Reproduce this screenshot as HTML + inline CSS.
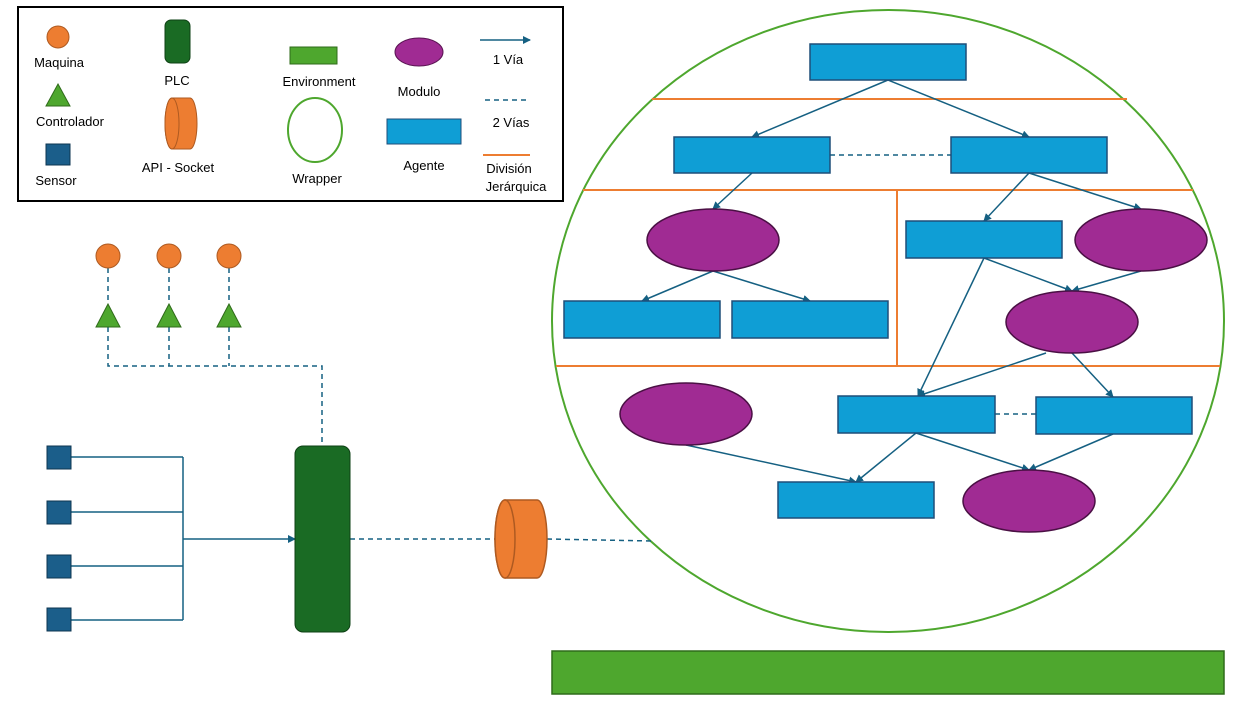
<!DOCTYPE html>
<html><head><meta charset="utf-8"><style>
html,body{margin:0;padding:0;background:#fff;}
svg{display:block;font-family:"Liberation Sans",sans-serif;font-size:13px;}
</style></head><body>
<svg width="1248" height="702" viewBox="0 0 1248 702">
<defs>
<marker id="ar" markerWidth="8" markerHeight="8" refX="7" refY="4" orient="auto" markerUnits="userSpaceOnUse"><path d="M0,0 L8,4 L0,8 Z" fill="#156082"/></marker>
</defs>
<!-- Legend -->
<g>
<rect x="18" y="7" width="545" height="194" fill="#fff" stroke="#000" stroke-width="2"/>
<circle cx="58" cy="37" r="11" fill="#ED7D31" stroke="#AE5A21"/>
<text x="59" y="67" text-anchor="middle">Maquina</text>
<polygon points="58,84 70,106 46,106" fill="#4EA72E" stroke="#2F6B1A"/>
<text x="70" y="126" text-anchor="middle">Controlador</text>
<rect x="46" y="144" width="24" height="21" fill="#1B5E8A" stroke="#0E3550"/>
<text x="56" y="185" text-anchor="middle">Sensor</text>
<rect x="165" y="20" width="25" height="43" rx="6" fill="#1A6B24" stroke="#0E4014"/>
<text x="177" y="85" text-anchor="middle">PLC</text>
<path d="M172,98 L190,98 A7,25.5 0 0 1 190,149 L172,149 A7,25.5 0 0 1 172,98 Z" fill="#ED7D31" stroke="#AE5A21"/>
<ellipse cx="172" cy="123.5" rx="7" ry="25.5" fill="#ED7D31" stroke="#AE5A21"/>
<text x="178" y="172" text-anchor="middle">API -  Socket</text>
<rect x="290" y="47" width="47" height="17" fill="#4EA72E" stroke="#2F6B1A"/>
<text x="319" y="86" text-anchor="middle">Environment</text>
<ellipse cx="315" cy="130" rx="27" ry="32" fill="none" stroke="#4EA72E" stroke-width="2"/>
<text x="317" y="183" text-anchor="middle">Wrapper</text>
<ellipse cx="419" cy="52" rx="24" ry="14" fill="#A02B93" stroke="#5A1453"/>
<text x="419" y="96" text-anchor="middle">Modulo</text>
<rect x="387" y="119" width="74" height="25" fill="#0F9ED5" stroke="#1F4E79"/>
<text x="424" y="170" text-anchor="middle">Agente</text>
<line x1="480" y1="40" x2="530" y2="40" stroke="#156082" stroke-width="1.5" marker-end="url(#ar)"/>
<text x="508" y="64" text-anchor="middle">1 Vía</text>
<line x1="485" y1="100" x2="530" y2="100" stroke="#156082" stroke-width="1.5" stroke-dasharray="5,4"/>
<text x="511" y="127" text-anchor="middle">2 Vías</text>
<line x1="483" y1="155" x2="530" y2="155" stroke="#ED7D31" stroke-width="2"/>
<text x="509" y="173" text-anchor="middle">División</text>
<text x="516" y="191" text-anchor="middle">Jerárquica</text>
</g>
<!-- Wrapper -->
<ellipse cx="888" cy="321" rx="336" ry="311" fill="none" stroke="#4EA72E" stroke-width="2"/>
<g stroke="#ED7D31" stroke-width="2">
<line x1="652" y1="99" x2="1127" y2="99"/>
<line x1="583" y1="190" x2="1193" y2="190"/>
<line x1="897" y1="190" x2="897" y2="366"/>
<line x1="556" y1="366" x2="1220" y2="366"/>
</g>
<!-- arrows -->
<g stroke="#156082" stroke-width="1.5" fill="none" marker-end="url(#ar)">
<line x1="888" y1="80" x2="752" y2="137"/>
<line x1="888" y1="80" x2="1029" y2="137"/>
<line x1="752" y1="173" x2="713" y2="209"/>
<line x1="1029" y1="173" x2="984" y2="221"/>
<line x1="1029" y1="173" x2="1141" y2="209"/>
<line x1="713" y1="271" x2="642" y2="301"/>
<line x1="713" y1="271" x2="810" y2="301"/>
<line x1="984" y1="258" x2="1072" y2="291"/>
<line x1="1141" y1="271" x2="1072" y2="291"/>
<line x1="984" y1="258" x2="918" y2="396"/>
<line x1="1046" y1="353" x2="918" y2="396"/>
<line x1="1072" y1="353" x2="1113" y2="397"/>
<line x1="686" y1="445" x2="856" y2="482"/>
<line x1="916" y1="433" x2="856" y2="482"/>
<line x1="916" y1="433" x2="1029" y2="470"/>
<line x1="1113" y1="434" x2="1029" y2="470"/>
</g>
<g stroke="#156082" stroke-width="1.5" stroke-dasharray="5,4">
<line x1="830" y1="155" x2="951" y2="155"/>
<line x1="995" y1="414" x2="1036" y2="414"/>
</g>
<!-- agents -->
<g fill="#0F9ED5" stroke="#1F4E79" stroke-width="1.5">
<rect x="810" y="44" width="156" height="36"/>
<rect x="674" y="137" width="156" height="36"/>
<rect x="951" y="137" width="156" height="36"/>
<rect x="906" y="221" width="156" height="37"/>
<rect x="564" y="301" width="156" height="37"/>
<rect x="732" y="301" width="156" height="37"/>
<rect x="838" y="396" width="157" height="37"/>
<rect x="1036" y="397" width="156" height="37"/>
<rect x="778" y="482" width="156" height="36"/>
</g>
<!-- modules -->
<g fill="#A02B93" stroke="#4A1044" stroke-width="1.5">
<ellipse cx="713" cy="240" rx="66" ry="31"/>
<ellipse cx="1141" cy="240" rx="66" ry="31"/>
<ellipse cx="1072" cy="322" rx="66" ry="31"/>
<ellipse cx="686" cy="414" rx="66" ry="31"/>
<ellipse cx="1029" cy="501" rx="66" ry="31"/>
</g>
<!-- left side -->
<g stroke="#156082" stroke-width="1.5" stroke-dasharray="5,4" fill="none">
<line x1="108" y1="268" x2="108" y2="304"/>
<line x1="169" y1="268" x2="169" y2="304"/>
<line x1="229" y1="268" x2="229" y2="304"/>
<polyline points="108,327 108,366 322,366 322,446"/>
<line x1="169" y1="327" x2="169" y2="366"/>
<line x1="229" y1="327" x2="229" y2="366"/>
<line x1="350" y1="539" x2="495" y2="539"/>
<line x1="547" y1="539" x2="652" y2="541"/>
</g>
<g fill="#ED7D31" stroke="#AE5A21">
<circle cx="108" cy="256" r="12"/>
<circle cx="169" cy="256" r="12"/>
<circle cx="229" cy="256" r="12"/>
</g>
<g fill="#4EA72E" stroke="#2F6B1A">
<polygon points="108,304 120,327 96,327"/>
<polygon points="169,304 181,327 157,327"/>
<polygon points="229,304 241,327 217,327"/>
</g>
<g stroke="#156082" stroke-width="1.5" fill="none">
<line x1="71" y1="457" x2="183" y2="457"/>
<line x1="71" y1="512" x2="183" y2="512"/>
<line x1="71" y1="566" x2="183" y2="566"/>
<line x1="71" y1="620" x2="183" y2="620"/>
<line x1="183" y1="457" x2="183" y2="620"/>
<line x1="183" y1="539" x2="295" y2="539" marker-end="url(#ar)"/>
</g>
<g fill="#1B5E8A" stroke="#0E3550">
<rect x="47" y="446" width="24" height="23"/>
<rect x="47" y="501" width="24" height="23"/>
<rect x="47" y="555" width="24" height="23"/>
<rect x="47" y="608" width="24" height="23"/>
</g>
<rect x="295" y="446" width="55" height="186" rx="8" fill="#1A6B24" stroke="#0E4014"/>
<g>
<path d="M505,500 L537,500 A10,39 0 0 1 537,578 L505,578 A10,39 0 0 1 505,500 Z" fill="#ED7D31" stroke="#AE5A21" stroke-width="1.5"/>
<ellipse cx="505" cy="539" rx="10" ry="39" fill="#ED7D31" stroke="#AE5A21" stroke-width="1.5"/>
</g>
<rect x="552" y="651" width="672" height="43" fill="#4EA72E" stroke="#2F6B1A" stroke-width="1.5"/>
</svg>
</body></html>
